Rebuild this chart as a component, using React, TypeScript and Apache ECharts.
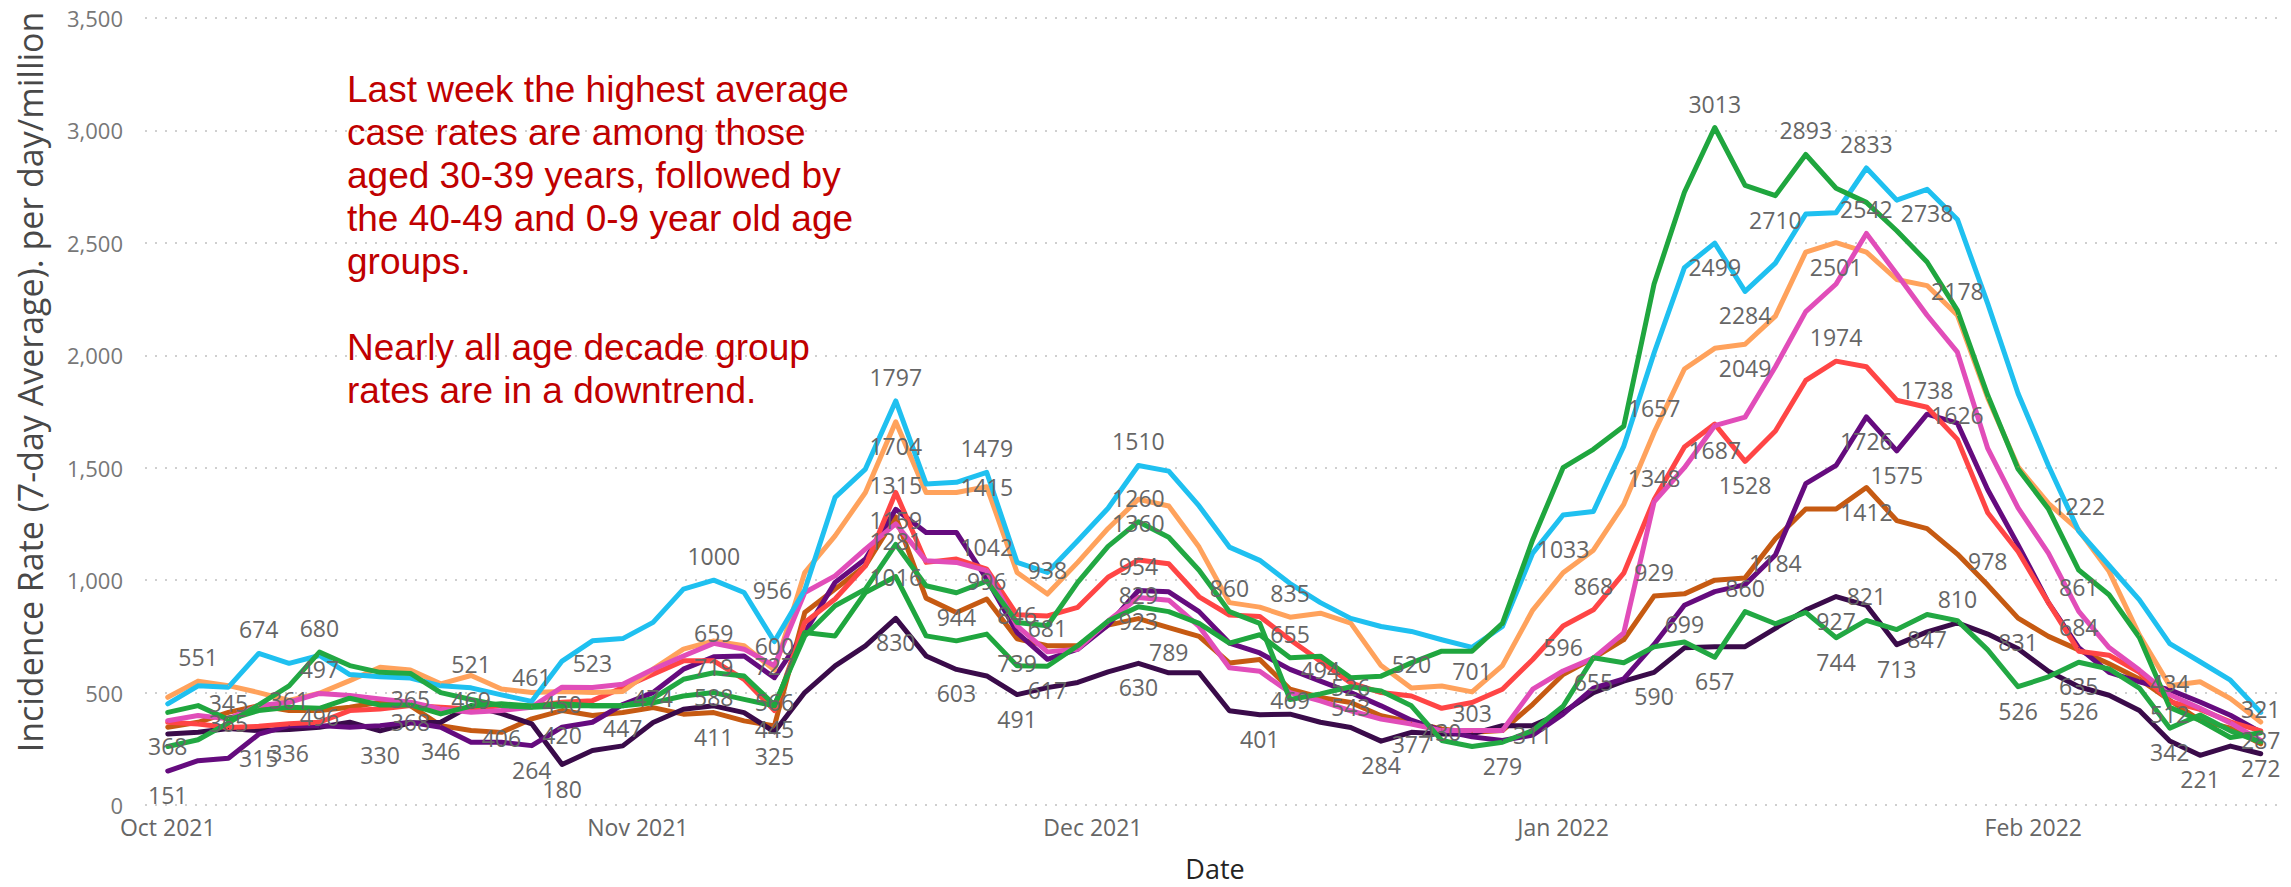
import React, { useEffect, useRef } from 'react';
import * as echarts from 'echarts';

// Sample dates (every second day, 7-day average incidence)
const dates = [
  '2021-10-01','2021-10-03','2021-10-05','2021-10-07','2021-10-09','2021-10-11','2021-10-13','2021-10-15',
  '2021-10-17','2021-10-19','2021-10-21','2021-10-23','2021-10-25','2021-10-27','2021-10-29','2021-10-31',
  '2021-11-02','2021-11-04','2021-11-06','2021-11-08','2021-11-10','2021-11-12','2021-11-14','2021-11-16',
  '2021-11-18','2021-11-20','2021-11-22','2021-11-24','2021-11-26','2021-11-28','2021-11-30',
  '2021-12-02','2021-12-04','2021-12-06','2021-12-08','2021-12-10','2021-12-12','2021-12-14','2021-12-16',
  '2021-12-18','2021-12-20','2021-12-22','2021-12-24','2021-12-26','2021-12-28','2021-12-30',
  '2022-01-01','2022-01-03','2022-01-05','2022-01-07','2022-01-09','2022-01-11','2022-01-13','2022-01-15',
  '2022-01-17','2022-01-19','2022-01-21','2022-01-23','2022-01-25','2022-01-27','2022-01-29','2022-01-31',
  '2022-02-02','2022-02-04','2022-02-06','2022-02-08','2022-02-10','2022-02-12','2022-02-14','2022-02-16',
];

const monthTicks = ['2021-10-01', '2021-11-01', '2021-12-01', '2022-01-01', '2022-02-01'];
const yTicks = [0, 500, 1000, 1500, 2000, 2500, 3000, 3500];

const cyanValues = [
  450, 530, 524, 674, 630, 665, 580, 570, 565, 530, 521, 490, 461, 640, 730, 740,
  812, 960, 1000, 945, 727, 956, 1368, 1494, 1797, 1428, 1435, 1479, 1079, 1034, 1175,
  1320, 1510, 1485, 1330, 1147, 1088, 985, 900, 830, 794, 772, 735, 701, 794, 1120,
  1290, 1305, 1595, 2010, 2390, 2499, 2284, 2410, 2628, 2634, 2833, 2690, 2738, 2604, 2230, 1830,
  1510, 1218, 1065, 912, 718, 637, 555, 412,
];
const orangeValues = [
  479, 551, 531, 500, 465, 497, 553, 613, 600, 539, 576, 516, 500, 505, 500, 505,
  604, 693, 730, 708, 600, 1034, 1197, 1390, 1704, 1390, 1390, 1415, 1034, 938, 1079,
  1230, 1360, 1330, 1147, 900, 880, 835, 853, 809, 620, 520, 529, 503, 620, 867,
  1033, 1133, 1337, 1657, 1939, 2031, 2049, 2174, 2459, 2501, 2459, 2337, 2310, 2178, 1810, 1504,
  1341, 1222, 1039, 756, 530, 548, 473, 369,
];
const greenJanValues = [
  412, 442, 380, 420, 435, 430, 475, 445, 445, 405, 440, 450, 440, 450, 441, 441,
  455, 485, 500, 470, 441, 767, 752, 945, 1016, 752, 730, 760, 619, 617, 708,
  818, 882, 860, 808, 720, 757, 655, 662, 566, 573, 632, 684, 684, 808, 1180,
  1500, 1582, 1684, 2317, 2725, 3013, 2756, 2710, 2893, 2743, 2680, 2554, 2415, 2200, 1822, 1494,
  1317, 1045, 935, 745, 434, 376, 300, 321,
];
const greenDecValues = [
  260, 290, 365, 445, 530, 680, 620, 590, 585, 500, 469, 442, 435, 440, 442, 441,
  474, 559, 588, 574, 445, 752, 886, 960, 1159, 975, 944, 996, 812, 797, 990,
  1150, 1260, 1191, 1044, 860, 808, 469, 494, 526, 507, 441, 287, 260, 279, 331,
  439, 655, 633, 704, 725, 657, 860, 806, 857, 744, 821, 780, 847, 820, 690, 526,
  570, 635, 605, 520, 342, 400, 330, 280,
];
const pinkValues = [
  375, 398, 383, 442, 457, 496, 487, 472, 457, 427, 412, 420, 435, 524, 523, 537,
  604, 663, 719, 693, 619, 945, 1019, 1138, 1250, 1086, 1079, 1042, 797, 681, 693,
  818, 923, 911, 794, 610, 595, 500, 463, 419, 382, 360, 331, 331, 331, 515,
  596, 653, 765, 1348, 1500, 1687, 1725, 1949, 2194, 2317, 2542, 2361, 2178, 2014, 1586, 1321,
  1120, 861, 700, 600, 490, 430, 365, 287,
];
const redValues = [
  368, 360, 345, 350, 361, 368, 420, 427, 442, 435, 427, 442, 440, 457, 464, 522,
  582, 641, 641, 559, 420, 812, 916, 1064, 1390, 1079, 1094, 1049, 846, 841, 879,
  1013, 1090, 1073, 926, 845, 838, 735, 640, 543, 500, 485, 430, 456, 515, 647,
  796, 868, 1031, 1357, 1592, 1694, 1528, 1663, 1888, 1974, 1949, 1800, 1769, 1626, 1300, 1127,
  900, 684, 666, 590, 460, 425, 370, 330,
];
const purpleValues = [
  151, 197, 208, 315, 353, 353, 346, 353, 368, 346, 279, 279, 264, 346, 368, 447,
  500, 604, 659, 663, 566, 767, 990, 1094, 1315, 1212, 1212, 1005, 767, 648, 693,
  800, 954, 948, 860, 720, 676, 603, 551, 500, 441, 377, 331, 303, 287, 311,
  404, 520, 561, 714, 888, 949, 980, 1112, 1429, 1510, 1726, 1575, 1738, 1698, 1402, 1157,
  900, 700, 590, 548, 512, 458, 399, 324,
];
const brownValues = [
  346, 368, 412, 442, 420, 420, 435, 457, 442, 353, 331, 323, 383, 420, 398, 411,
  433, 404, 411, 374, 352, 856, 960, 1064, 1281, 920, 856, 916, 739, 708, 708,
  800, 829, 789, 750, 632, 647, 515, 478, 456, 397, 368, 338, 323, 331, 448,
  580, 653, 735, 929, 939, 1000, 1010, 1184, 1316, 1316, 1412, 1265, 1229, 1116, 978, 831,
  750, 690, 628, 560, 466, 376, 342, 272,
];
const darkPurpleValues = [
  316, 324, 340, 331, 336, 346, 368, 330, 365, 368, 442, 406, 361, 180, 242, 263,
  367, 426, 441, 411, 325, 500, 619, 708, 830, 663, 603, 574, 491, 522, 545,
  592, 630, 588, 588, 419, 401, 404, 368, 345, 284, 323, 316, 316, 353, 353,
  412, 500, 551, 590, 699, 704, 704, 786, 867, 927, 888, 713, 770, 810, 760, 695,
  595, 526, 488, 420, 285, 221, 262, 228,
];

// Which sampled points carry a data label, and on which side of the point
const cyanLabels: Record<number, string> = { 3: 'top', 10: 'top', 12: 'top', 18: 'top', 20: 'bottom', 21: 'left', 24: 'top', 27: 'top', 32: 'top', 43: 'bottom', 51: 'bottom', 52: 'bottom', 56: 'top', 58: 'bottom' };
const orangeLabels: Record<number, string> = { 1: 'top', 5: 'top', 20: 'top', 24: 'bottom', 27: 'inside', 29: 'top', 32: 'bottom', 37: 'top', 41: 'top', 46: 'top', 49: 'top', 52: 'bottom', 55: 'bottom', 59: 'top', 63: 'top' };
const greenJanLabels: Record<number, string> = { 13: 'inside', 24: 'inside', 29: 'bottom', 37: 'top', 51: 'top', 53: 'bottom', 54: 'top', 66: 'top', 69: 'top' };
const greenDecLabels: Record<number, string> = { 2: 'inside', 5: 'top', 10: 'inside', 16: 'inside', 18: 'bottom', 20: 'bottom', 24: 'top', 26: 'bottom', 27: 'inside', 32: 'top', 35: 'top', 37: 'inside', 38: 'top', 39: 'inside', 44: 'bottom', 47: 'bottom', 51: 'bottom', 52: 'top', 55: 'bottom', 56: 'top', 58: 'bottom', 61: 'bottom', 63: 'bottom', 66: 'bottom' };
const pinkLabels: Record<number, string> = { 5: 'bottom', 14: 'top', 18: 'bottom', 27: 'top', 29: 'top', 32: 'bottom', 46: 'top', 49: 'top', 51: 'bottom', 56: 'top', 63: 'top', 69: 'inside' };
const redLabels: Record<number, string> = { 0: 'bottom', 2: 'top', 4: 'top', 28: 'inside', 39: 'bottom', 42: 'bottom', 47: 'top', 52: 'bottom', 55: 'top', 59: 'top', 63: 'top' };
const purpleLabels: Record<number, string> = { 0: 'bottom', 3: 'bottom', 8: 'inside', 9: 'bottom', 12: 'bottom', 15: 'bottom', 18: 'top', 20: 'bottom', 24: 'top', 32: 'top', 41: 'bottom', 43: 'top', 45: 'inside', 56: 'bottom', 57: 'bottom', 58: 'top', 66: 'bottom' };
const brownLabels: Record<number, string> = { 13: 'bottom', 18: 'bottom', 24: 'bottom', 28: 'bottom', 32: 'top', 33: 'bottom', 49: 'top', 53: 'bottom', 56: 'bottom', 60: 'top', 61: 'bottom', 69: 'bottom' };
const darkPurpleLabels: Record<number, string> = { 4: 'bottom', 7: 'bottom', 8: 'top', 11: 'bottom', 13: 'bottom', 20: 'bottom', 24: 'bottom', 26: 'bottom', 28: 'bottom', 32: 'bottom', 36: 'bottom', 40: 'bottom', 49: 'bottom', 50: 'top', 55: 'bottom', 57: 'bottom', 59: 'top', 63: 'bottom', 67: 'bottom' };

const seriesDefs = [
  { name: '60-69', color: '#C65A12', values: brownValues, labels: brownLabels },
  { name: '50-59', color: '#3A0B4A', values: darkPurpleValues, labels: darkPurpleLabels },
  { name: '70-79', color: '#650B7E', values: purpleValues, labels: purpleLabels },
  { name: '0-9', color: '#FF4545', values: redValues, labels: redLabels },
  { name: '40-49', color: '#FFA25C', values: orangeValues, labels: orangeLabels },
  { name: '80+', color: '#E14DB9', values: pinkValues, labels: pinkLabels },
  { name: '30-39', color: '#1FC0F0', values: cyanValues, labels: cyanLabels },
  { name: '10-19', color: '#22A843', values: greenDecValues, labels: greenDecLabels },
  { name: '20-29', color: '#1FA63E', values: greenJanValues, labels: greenJanLabels },
];

const yAxisTitle = 'Incidence Rate (7-day Average). per day/million';
const annotation =
  'Last week the highest average\ncase rates are among those\naged 30-39 years, followed by\nthe 40-49 and 0-9 year old age\ngroups.\n\nNearly all age decade group\nrates are in a downtrend.';

const MONTHS = ['Jan', 'Feb', 'Mar', 'Apr', 'May', 'Jun', 'Jul', 'Aug', 'Sep', 'Oct', 'Nov', 'Dec'];
const ORIGIN = Date.UTC(2021, 9, 1);
const toDay = (s: string) => {
  const [y, m, d] = s.split('-').map(Number);
  return Math.round((Date.UTC(y, m - 1, d) - ORIGIN) / 86400000);
};
const monthLabel = (s: string) => {
  const [y, m] = s.split('-').map(Number);
  return `${MONTHS[m - 1]} ${y}`;
};

export default function App() {
  const ref = useRef<HTMLDivElement>(null);

  useEffect(() => {
    if (!ref.current) return;
    const chart = echarts.init(ref.current, undefined, { renderer: 'svg' });
    const days = dates.map(toDay);
    const tickDays = monthTicks.map(toDay);
    const tickText: Record<number, string> = {};
    monthTicks.forEach((s, i) => (tickText[tickDays[i]] = monthLabel(s)));

    const series = seriesDefs.map((def) => ({
      name: def.name,
      type: 'line',
      showSymbol: true,
      symbol: 'circle',
      symbolSize: 1,
      z: 2,
      lineStyle: { width: 5, color: def.color, join: 'round', cap: 'round' },
      itemStyle: { color: def.color },
      emphasis: { disabled: true },
      label: {
        show: false,
        color: '#666666',
        fontSize: 23,
        fontFamily: '"Open Sans", "Noto Sans", sans-serif',
        distance: 12,
      },
      data: def.values.map((v, i) => {
        const pos = def.labels[i];
        return pos
          ? { value: [days[i], v], label: { show: true, position: pos } }
          : { value: [days[i], v] };
      }),
    }));

    chart.setOption({
      animation: false,
      backgroundColor: '#ffffff',
      grid: { left: 145, right: 6, top: 18, bottom: 81, containLabel: false },
      xAxis: {
        type: 'value',
        min: -1.5,
        max: 139.6,
        name: 'Date',
        nameLocation: 'middle',
        nameGap: 50,
        nameTextStyle: { color: '#252423', fontSize: 27, fontFamily: '"Open Sans", sans-serif' },
        axisLine: { show: false },
        axisTick: { show: false },
        splitLine: { show: false },
        axisLabel: {
          customValues: tickDays,
          formatter: (v: number) => tickText[v] ?? '',
          color: '#666666',
          fontSize: 23,
          margin: 10,
          fontFamily: '"Open Sans", sans-serif',
        },
      },
      yAxis: {
        type: 'value',
        min: yTicks[0],
        max: yTicks[yTicks.length - 1],
        interval: 500,
        axisLine: { show: false },
        axisTick: { show: false },
        axisLabel: {
          color: '#777777',
          fontSize: 22,
          margin: 22,
          fontFamily: '"Open Sans", sans-serif',
          formatter: (v: number) => v.toLocaleString('en-US'),
        },
        splitLine: { show: true, lineStyle: { color: '#CFCFCF', width: 2, type: [2, 8] } },
      },
      graphic: [
        {
          type: 'text',
          x: 30,
          y: 382,
          rotation: Math.PI / 2,
          z: 10,
          style: {
            text: yAxisTitle,
            fill: '#484848',
            fontSize: 34,
            fontFamily: '"Open Sans", sans-serif',
            textAlign: 'center',
            textVerticalAlign: 'middle',
          },
        },
        {
          type: 'text',
          left: 347,
          top: 68,
          z: 10,
          style: {
            text: annotation,
            fill: '#C00000',
            fontSize: 37,
            lineHeight: 43,
            fontFamily: '"Liberation Sans", Arial, sans-serif',
          },
        },
      ],
      series,
    });
    return () => chart.dispose();
  }, []);

  return (
    <div
      ref={ref}
      style={{ position: 'fixed', left: 0, top: 0, width: 2291, height: 887, background: '#fff' }}
    />
  );
}
